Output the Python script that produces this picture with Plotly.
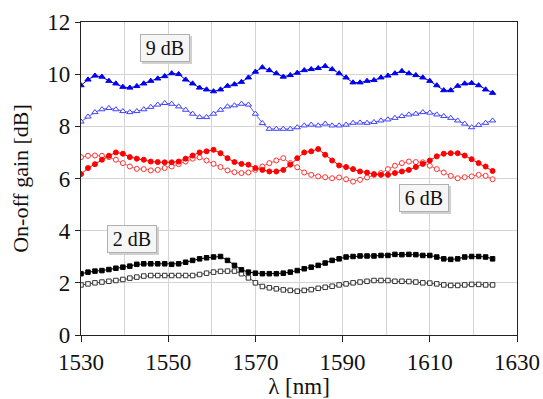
import plotly.graph_objects as go

wavelength = [1530.0, 1531.6, 1533.2, 1534.8, 1536.4, 1538.0, 1539.6, 1541.2, 1542.8, 1544.4,
              1546.0, 1547.6, 1549.2, 1550.8, 1552.4, 1554.0, 1555.6, 1557.2, 1558.8, 1560.4,
              1562.0, 1563.6, 1565.2, 1566.8, 1568.4, 1570.0, 1571.6, 1573.2, 1574.8, 1576.4,
              1578.0, 1579.6, 1581.2, 1582.8, 1584.4, 1586.0, 1587.6, 1589.2, 1590.8, 1592.4,
              1594.0, 1595.6, 1597.2, 1598.8, 1600.4, 1602.0, 1603.6, 1605.2, 1606.8, 1608.4,
              1610.0, 1611.6, 1613.2, 1614.8, 1616.4, 1618.0, 1619.6, 1621.2, 1622.8, 1624.4]

gain_9db_a = [9.57, 9.79, 9.94, 9.90, 9.74, 9.64, 9.51, 9.48, 9.54, 9.64,
              9.74, 9.83, 9.92, 10.03, 10.00, 9.79, 9.64, 9.48, 9.41, 9.34,
              9.41, 9.55, 9.61, 9.70, 9.87, 10.09, 10.26, 10.15, 10.03, 9.90,
              9.96, 10.05, 10.15, 10.19, 10.23, 10.31, 10.19, 10.03, 9.87, 9.68,
              9.68, 9.74, 9.77, 9.87, 9.94, 10.03, 10.12, 10.03, 9.96, 9.87,
              9.74, 9.57, 9.38, 9.38, 9.55, 9.64, 9.66, 9.57, 9.41, 9.28]

gain_9db_b = [8.18, 8.37, 8.54, 8.65, 8.70, 8.65, 8.58, 8.54, 8.58, 8.65,
              8.74, 8.83, 8.89, 8.86, 8.76, 8.63, 8.48, 8.35, 8.35, 8.48,
              8.63, 8.76, 8.80, 8.86, 8.83, 8.48, 8.12, 7.90, 7.90, 7.90,
              7.90, 7.96, 8.03, 8.06, 8.03, 8.10, 8.03, 8.03, 8.06, 8.13,
              8.14, 8.13, 8.16, 8.22, 8.26, 8.32, 8.39, 8.45, 8.48, 8.54,
              8.52, 8.45, 8.39, 8.32, 8.22, 8.10, 7.96, 8.05, 8.13, 8.22]

gain_6db_a = [6.17, 6.40, 6.55, 6.72, 6.87, 7.00, 6.95, 6.82, 6.76, 6.72,
              6.65, 6.63, 6.62, 6.62, 6.65, 6.76, 6.88, 7.00, 7.04, 7.10,
              6.97, 6.78, 6.63, 6.56, 6.53, 6.40, 6.33, 6.27, 6.27, 6.33,
              6.53, 6.78, 7.00, 7.04, 7.13, 6.91, 6.69, 6.50, 6.44, 6.36,
              6.27, 6.23, 6.17, 6.14, 6.14, 6.21, 6.27, 6.33, 6.44, 6.56,
              6.69, 6.85, 6.95, 6.97, 6.97, 6.88, 6.74, 6.59, 6.46, 6.29]

gain_6db_b = [6.82, 6.87, 6.88, 6.87, 6.82, 6.72, 6.59, 6.46, 6.37, 6.36,
              6.31, 6.33, 6.40, 6.46, 6.55, 6.65, 6.76, 6.81, 6.69, 6.56,
              6.44, 6.31, 6.24, 6.21, 6.23, 6.33, 6.46, 6.59, 6.69, 6.78,
              6.59, 6.43, 6.23, 6.14, 6.08, 6.05, 6.01, 6.04, 5.97, 5.88,
              5.95, 6.04, 6.14, 6.21, 6.36, 6.49, 6.59, 6.65, 6.63, 6.62,
              6.49, 6.36, 6.23, 6.10, 6.01, 6.05, 6.08, 6.14, 6.10, 5.97]

gain_2db_a = [2.35, 2.41, 2.45, 2.47, 2.51, 2.56, 2.60, 2.64, 2.71, 2.73,
              2.73, 2.73, 2.73, 2.71, 2.73, 2.79, 2.86, 2.92, 2.96, 2.99,
              3.01, 2.86, 2.67, 2.50, 2.41, 2.37, 2.35, 2.35, 2.35, 2.37,
              2.41, 2.47, 2.54, 2.60, 2.67, 2.76, 2.86, 2.92, 2.99, 3.01,
              3.03, 3.03, 3.03, 3.05, 3.05, 3.09, 3.08, 3.09, 3.08, 3.05,
              3.05, 2.99, 2.92, 2.90, 2.92, 2.99, 3.01, 3.01, 2.99, 2.92]

gain_2db_b = [1.92, 1.96, 2.00, 2.03, 2.06, 2.09, 2.13, 2.18, 2.22, 2.26,
              2.28, 2.28, 2.28, 2.28, 2.28, 2.28, 2.28, 2.32, 2.37, 2.41,
              2.44, 2.45, 2.45, 2.35, 2.19, 2.00, 1.86, 1.81, 1.77, 1.73,
              1.71, 1.68, 1.71, 1.74, 1.79, 1.83, 1.87, 1.92, 1.96, 2.00,
              2.03, 2.06, 2.09, 2.09, 2.09, 2.06, 2.06, 2.05, 2.03, 2.00,
              1.99, 1.96, 1.92, 1.90, 1.90, 1.92, 1.94, 1.94, 1.92, 1.92]

x_ticks = [1530, 1550, 1570, 1590, 1610, 1630]
y_ticks = [0, 2, 4, 6, 8, 10, 12]

labels = ["9 dB", "6 dB", "2 dB"]
label_x = [1549.3, 1608.7, 1541.7]
label_y = [11.0, 5.27, 3.69]

FONT = "Liberation Serif, Times New Roman, serif"

fig = go.Figure()

def add(y, line_color, symbol, fill, outline, size):
    fig.add_trace(go.Scatter(
        x=wavelength, y=y, mode="lines+markers",
        line=dict(color=line_color, width=1),
        marker=dict(symbol=symbol, size=size, color=fill,
                    line=dict(color=outline, width=1)),
        showlegend=False, hoverinfo="skip"))

add(gain_9db_b, "#5b5bff", "triangle-up", "white", "#4040ff", 5.5)
add(gain_9db_a, "#0000ee", "triangle-up", "#0000ee", "#0000ee", 5.5)
add(gain_6db_b, "#ff5a5a", "circle", "white", "#ff3030", 5)
add(gain_6db_a, "#ff0000", "circle", "#ff0000", "#ff0000", 5)
add(gain_2db_b, "#444444", "square", "white", "#333333", 4.5)
add(gain_2db_a, "#000000", "square", "#000000", "#000000", 4.5)

for t, xx, yy in zip(labels, label_x, label_y):
    # soft drop shadow behind the label box (no visible text)
    fig.add_annotation(x=xx, y=yy, text=" ", showarrow=False, xshift=2, yshift=-2,
                       font=dict(family=FONT, size=20),
                       bgcolor="#d0d0d0", bordercolor="#d0d0d0", borderwidth=1,
                       borderpad=2, width=44, height=22)
    fig.add_annotation(x=xx, y=yy, text=t, showarrow=False,
                       font=dict(family=FONT, size=20, color="#111"),
                       bgcolor="#f6f6f6", bordercolor="#b0b0b0", borderwidth=1,
                       borderpad=2, width=44, height=22)

fig.update_layout(
    width=543, height=399,
    margin=dict(l=81, r=26, t=22, b=64),
    paper_bgcolor="white", plot_bgcolor="white",
    font=dict(family=FONT, size=22, color="#111"),
    xaxis=dict(range=[1530, 1630], tickvals=x_ticks, ticks="outside", ticklen=6,
               tickcolor="#222", showline=True, linecolor="#222", linewidth=1.3,
               mirror=True, showgrid=True, gridcolor="#d4d4d4", gridwidth=1,
               minor=dict(dtick=10, tick0=1530, showgrid=True, gridcolor="#d4d4d4", ticks=""),
               zeroline=False, automargin=False,
               title=dict(text="λ [nm]", font=dict(size=23), standoff=2),
               tickfont=dict(size=23)),
    yaxis=dict(range=[0, 12], tickvals=y_ticks, ticks="outside", ticklen=5,
               tickcolor="#222", showline=True, linecolor="#222", linewidth=1.3,
               mirror=True, showgrid=True, gridcolor="#d4d4d4", gridwidth=1,
               zeroline=False, automargin=False,
               title=dict(text="On-off gain [dB]", font=dict(size=22), standoff=12),
               tickfont=dict(size=23)),
)

fig.write_html("out.html", config={"displayModeBar": False},
               post_script="document.body.style.margin='0';")
